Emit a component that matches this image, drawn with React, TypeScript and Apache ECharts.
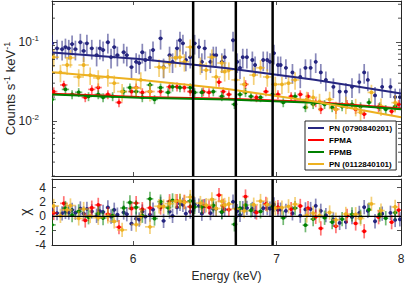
import React, { useEffect, useRef } from "react";
import * as echarts from "echarts";

// ---------- axis ranges / ticks ----------
const X_MIN = 5.5;
const X_MAX = 8;
const xTickValues = [6, 7, 8];
const Y_MIN = 0.002;
const Y_MAX = 0.33;
const yMinorTicks = [0.002, 0.003, 0.004, 0.005, 0.006, 0.007, 0.008, 0.009, 0.02, 0.03, 0.04, 0.05, 0.06, 0.07, 0.08, 0.09, 0.2, 0.3];
const CHI_MIN = -4;
const CHI_MAX = 5.2;
const feLines = [6.4, 6.7, 6.97];

// ---------- series names ----------
const names = ["PN (0790840201)", "FPMA", "FPMB", "PN (0112840101)"];

// ---------- PN (0790840201) ----------
const pn1E = [5.50, 5.53, 5.56, 5.58, 5.60, 5.62, 5.64, 5.67, 5.69, 5.71, 5.74, 5.77, 5.79, 5.81, 5.84, 5.86, 5.88, 5.90, 5.94, 5.96, 5.99, 6.02, 6.04, 6.06, 6.08, 6.11, 6.13, 6.18, 6.20, 6.24, 6.26, 6.29, 6.31, 6.33, 6.35, 6.38, 6.41, 6.44, 6.46, 6.48, 6.52, 6.54, 6.56, 6.60, 6.62, 6.68, 6.71, 6.73, 6.75, 6.78, 6.82, 6.84, 6.90, 6.93, 6.95, 6.98, 7.01, 7.03, 7.07, 7.12, 7.18, 7.22, 7.26, 7.30, 7.34, 7.38, 7.44, 7.49, 7.54, 7.59, 7.65, 7.69, 7.72, 7.78, 7.84, 7.91, 7.95, 7.99];
const pn1V = [0.096, 0.083, 0.081, 0.086, 0.083, 0.094, 0.081, 0.099, 0.077, 0.096, 0.083, 0.068, 0.083, 0.079, 0.099, 0.064, 0.086, 0.068, 0.074, 0.068, 0.048, 0.056, 0.054, 0.074, 0.059, 0.063, 0.079, 0.111, 0.048, 0.068, 0.056, 0.083, 0.105, 0.096, 0.059, 0.064, 0.096, 0.086, 0.056, 0.083, 0.056, 0.068, 0.068, 0.056, 0.064, 0.105, 0.056, 0.047, 0.064, 0.064, 0.059, 0.051, 0.059, 0.059, 0.056, 0.072, 0.051, 0.051, 0.047, 0.041, 0.036, 0.047, 0.047, 0.056, 0.041, 0.033, 0.027, 0.0235, 0.0235, 0.027, 0.031, 0.041, 0.033, 0.021, 0.027, 0.027, 0.020, 0.020];
const pn1RelErr = 0.28;
const pn1HalfBin = 0.014;
const pn1ModelE = [5.5, 6.04, 6.64, 7.29, 8.0];
const pn1ModelV = [0.0733, 0.0608, 0.0465, 0.0332, 0.0222];

// ---------- FPMA ----------
const fpmaE = [5.51, 5.57, 5.70, 5.74, 5.78, 5.84, 5.91, 5.99, 6.02, 6.06, 6.11, 6.18, 6.24, 6.29, 6.34, 6.38, 6.47, 6.51, 6.58, 6.61, 6.65, 6.77, 6.85, 6.92, 7.01, 7.11, 7.18, 7.24, 7.30, 7.34, 7.46, 7.55, 7.62, 7.69, 7.81, 7.92, 7.98];
const fpmaV = [0.0235, 0.0285, 0.0198, 0.025, 0.0264, 0.0216, 0.0171, 0.0235, 0.0264, 0.0229, 0.0235, 0.0235, 0.027, 0.027, 0.0264, 0.0235, 0.0235, 0.0229, 0.031, 0.0235, 0.0216, 0.029, 0.0198, 0.0235, 0.0216, 0.0204, 0.0216, 0.0204, 0.0171, 0.014, 0.014, 0.0162, 0.014, 0.0122, 0.0148, 0.0132, 0.0162];
const fpmaRelErr = 0.13;
const fpmaHalfBin = 0.022;
const fpmaModelE = [5.5, 6.04, 6.64, 7.29, 8.0];
const fpmaModelV = [0.0221, 0.0200, 0.0190, 0.0173, 0.0143];

// ---------- FPMB ----------
const fpmbE = [5.50, 5.58, 5.62, 5.66, 5.72, 5.78, 5.81, 5.87, 5.94, 5.98, 6.02, 6.06, 6.11, 6.14, 6.18, 6.23, 6.26, 6.31, 6.38, 6.41, 6.46, 6.54, 6.60, 6.69, 6.73, 6.77, 6.81, 6.88, 6.97, 7.05, 7.14, 7.22, 7.28, 7.37, 7.43, 7.51, 7.59, 7.66, 7.73, 7.82, 7.87, 7.95];
const fpmbV = [0.0187, 0.025, 0.0216, 0.023, 0.0204, 0.0216, 0.0198, 0.0204, 0.0235, 0.0264, 0.0235, 0.0198, 0.0285, 0.0187, 0.0264, 0.0229, 0.027, 0.0264, 0.0264, 0.0229, 0.0229, 0.0235, 0.0204, 0.0162, 0.0216, 0.023, 0.0204, 0.0198, 0.0216, 0.0171, 0.0204, 0.0148, 0.0162, 0.0162, 0.0148, 0.0152, 0.0162, 0.0152, 0.0171, 0.0152, 0.014, 0.0152];
const fpmbRelErr = 0.13;
const fpmbHalfBin = 0.022;
const fpmbModelE = [5.5, 6.04, 6.64, 7.29, 8.0];
const fpmbModelV = [0.0216, 0.0196, 0.0187, 0.0170, 0.0140];

// ---------- PN (0112840101) ----------
const pn2E = [5.51, 5.55, 5.59, 5.61, 5.66, 5.69, 5.73, 5.78, 5.84, 5.88, 5.93, 6.02, 6.05, 6.11, 6.17, 6.20, 6.24, 6.28, 6.31, 6.34, 6.38, 6.45, 6.49, 6.53, 6.56, 6.60, 6.62, 6.65, 6.70, 6.76, 6.83, 6.88, 6.93, 6.99, 7.04, 7.09, 7.14, 7.23, 7.28, 7.33, 7.41, 7.46, 7.54, 7.62, 7.66, 7.75, 7.83, 7.95];
const pn2V = [0.064, 0.041, 0.051, 0.063, 0.036, 0.051, 0.038, 0.035, 0.036, 0.030, 0.0235, 0.026, 0.033, 0.0235, 0.048, 0.047, 0.054, 0.063, 0.064, 0.056, 0.086, 0.051, 0.044, 0.064, 0.036, 0.054, 0.042, 0.044, 0.033, 0.029, 0.038, 0.047, 0.036, 0.029, 0.029, 0.030, 0.033, 0.0187, 0.0198, 0.0176, 0.0187, 0.014, 0.0162, 0.0152, 0.0128, 0.0229, 0.0154, 0.017];
const pn2RelErr = 0.25;
const pn2HalfBin = 0.032;
const pn2ModelE = [5.5, 6.04, 6.64, 7.29, 8.0];
const pn2ModelV = [0.0412, 0.0332, 0.0253, 0.0176, 0.0111];

// ---------- colours ----------
const colors = ["#262680", "#ff0000", "#008000", "#edb120"];
const barColors = ["rgba(38,38,128,0.55)", "rgba(255,0,0,0.55)", "rgba(0,128,0,0.55)", "rgba(237,177,32,0.6)"];

const FONT = "Liberation Sans, Arial, Helvetica, sans-serif";
const AX = "#262626";

function modelAt(E: number, mE: number[], mV: number[]) {
  for (let i = 0; i < mE.length - 1; i++) {
    if (E <= mE[i + 1] || i === mE.length - 2) {
      const f = Math.log(E / mE[i]) / Math.log(mE[i + 1] / mE[i]);
      return Math.exp(Math.log(mV[i]) + f * (Math.log(mV[i + 1]) - Math.log(mV[i])));
    }
  }
  return mV[mV.length - 1];
}

const sets = [
  { E: pn1E, V: pn1V, rel: pn1RelErr, hb: pn1HalfBin, mE: pn1ModelE, mV: pn1ModelV },
  { E: fpmaE, V: fpmaV, rel: fpmaRelErr, hb: fpmaHalfBin, mE: fpmaModelE, mV: fpmaModelV },
  { E: fpmbE, V: fpmbV, rel: fpmbRelErr, hb: fpmbHalfBin, mE: fpmbModelE, mV: fpmbModelV },
  { E: pn2E, V: pn2V, rel: pn2RelErr, hb: pn2HalfBin, mE: pn2ModelE, mV: pn2ModelV },
];

function errRender(color: string, barColor: string) {
  return (params: any, api: any) => {
    const E = api.value(0), y = api.value(1), lo = api.value(2), hi = api.value(3), dx = api.value(4);
    const p = api.coord([E, y]);
    const pl = api.coord([E - dx, y]);
    const pr = api.coord([E + dx, y]);
    const pt = api.coord([E, hi]);
    const pb = api.coord([E, lo]);
    return {
      type: "group",
      children: [
        { type: "line", shape: { x1: pl[0], y1: p[1], x2: pr[0], y2: p[1] }, style: { stroke: barColor, lineWidth: 1.7 } },
        { type: "line", shape: { x1: p[0], y1: pt[1], x2: p[0], y2: pb[1] }, style: { stroke: barColor, lineWidth: 1.7 } },
        { type: "circle", shape: { cx: p[0], cy: p[1], r: 1.9 }, style: { fill: color } },
      ],
    };
  };
}

function minorTickRender(params: any, api: any) {
  const v = api.value(1);
  const a = api.coord([X_MIN, v]);
  const b = api.coord([X_MAX, v]);
  return {
    type: "group",
    children: [
      { type: "line", shape: { x1: a[0], y1: a[1], x2: a[0] + 3, y2: a[1] }, style: { stroke: AX, lineWidth: 0.8 } },
      { type: "line", shape: { x1: b[0] - 3, y1: b[1], x2: b[0], y2: b[1] }, style: { stroke: AX, lineWidth: 0.8 } },
    ],
  };
}

function vLineRender(yLo: number, yHi: number) {
  return (params: any, api: any) => {
    const e = api.value(0);
    const a = api.coord([e, yLo]);
    const b = api.coord([e, yHi]);
    return { type: "line", shape: { x1: a[0], y1: a[1], x2: b[0], y2: b[1] }, style: { stroke: "#000", lineWidth: 2.5 } };
  };
}

function hLineRender(params: any, api: any) {
  const v = api.value(1);
  const a = api.coord([X_MIN, v]);
  const b = api.coord([X_MAX, v]);
  return { type: "line", shape: { x1: a[0], y1: a[1], x2: b[0], y2: b[1] }, style: { stroke: "#000", lineWidth: 1.2 } };
}

function buildOption() {
  const series: any[] = [];
  sets.forEach((s, i) => {
    const pts = s.E.map((e, k) => {
      const v = s.V[k];
      return [e, v, v * (1 - s.rel), v * (1 + s.rel), s.hb];
    });
    const res = s.E.map((e, k) => {
      const v = s.V[k];
      const chi = (v - modelAt(e, s.mE, s.mV)) / (v * s.rel);
      return [e, chi, chi - 1, chi + 1, s.hb];
    });
    series.push({
      type: "custom", name: names[i] + " data", xAxisIndex: 0, yAxisIndex: 0,
      renderItem: errRender(colors[i], barColors[i]), data: pts, encode: { x: 0, y: 1 }, z: 2, clip: true, silent: true,
    });
    series.push({
      type: "custom", name: names[i] + " resid", xAxisIndex: 1, yAxisIndex: 2,
      renderItem: errRender(colors[i], barColors[i]), data: res, encode: { x: 0, y: 1 }, z: 2, clip: true, silent: true,
    });
  });
  sets.forEach((s, i) => {
    series.push({
      type: "line", name: names[i], xAxisIndex: 0, yAxisIndex: 0,
      data: s.mE.map((e, k) => [e, s.mV[k]]), showSymbol: false, symbol: "none",
      lineStyle: { color: colors[i], width: 2 }, itemStyle: { color: colors[i] }, z: 3, silent: true,
    });
  });
  series.push({
    type: "custom", name: "minor", xAxisIndex: 0, yAxisIndex: 0, renderItem: minorTickRender,
    data: yMinorTicks.map((v) => [X_MIN, v]), encode: { x: 0, y: 1 }, z: 5, silent: true,
  });
  series.push({
    type: "custom", name: "fe0", xAxisIndex: 0, yAxisIndex: 0, renderItem: vLineRender(Y_MIN, Y_MAX),
    data: feLines.map((e) => [e, 0.01]), encode: { x: 0, y: 1 }, z: 10, silent: true,
  });
  series.push({
    type: "custom", name: "fe1", xAxisIndex: 1, yAxisIndex: 2, renderItem: vLineRender(CHI_MIN, CHI_MAX),
    data: feLines.map((e) => [e, 0]), encode: { x: 0, y: 1 }, z: 10, silent: true,
  });
  series.push({
    type: "custom", name: "zero", xAxisIndex: 1, yAxisIndex: 2, renderItem: hLineRender,
    data: [[X_MIN, 0]], encode: { x: 0, y: 1 }, z: 9, silent: true,
  });

  const tickCommon = { show: true, inside: true, length: 4, lineStyle: { color: AX, width: 0.8 } };
  const lineCommon = { show: true, onZero: false, lineStyle: { color: AX, width: 1 } };
  const xBase = {
    type: "log", logBase: 10, min: X_MIN, max: X_MAX, splitLine: { show: false },
    axisLine: lineCommon,
  };

  return {
    animation: false,
    backgroundColor: "#fff",
    textStyle: { fontFamily: FONT },
    grid: [
      { left: 52, top: 1, width: 349, height: 175, containLabel: false, outerBoundsMode: "none" },
      { left: 52, top: 179, width: 349, height: 66, containLabel: false, outerBoundsMode: "none" },
    ],
    legend: {
      data: names.map((n) => ({ name: n, icon: "rect" })),
      orient: "vertical", left: 305, top: 121, itemWidth: 16, itemHeight: 2, itemGap: 2,
      padding: [2, 4, 1, 3], backgroundColor: "#fff", borderColor: AX, borderWidth: 1,
      textStyle: { fontFamily: FONT, fontSize: 8, fontWeight: "bold", color: "#000", lineHeight: 10 },
      selectedMode: false,
    },
    xAxis: [
      { ...xBase, gridIndex: 0, position: "bottom", axisLabel: { show: false }, axisTick: { ...tickCommon, customValues: xTickValues } },
      {
        ...xBase, gridIndex: 1, position: "bottom",
        axisTick: { ...tickCommon, customValues: xTickValues },
        axisLabel: { show: true, customValues: xTickValues, margin: 8, fontSize: 12, color: AX, fontFamily: FONT, formatter: (v: number) => String(Math.round(v)) },
        name: "Energy (keV)", nameLocation: "middle", nameGap: 25, nameMoveOverlap: false,
        nameTextStyle: { fontSize: 12, color: AX, fontFamily: FONT },
      },
      { ...xBase, gridIndex: 0, position: "top", axisLabel: { show: false }, axisTick: { ...tickCommon, customValues: xTickValues } },
      { ...xBase, gridIndex: 1, position: "top", axisLabel: { show: false }, axisTick: { ...tickCommon, customValues: xTickValues } },
    ],
    yAxis: [
      {
        type: "log", logBase: 10, gridIndex: 0, min: Y_MIN, max: Y_MAX, position: "left",
        axisLine: lineCommon, splitLine: { show: false }, axisTick: { ...tickCommon, length: 5 },
        axisLabel: {
          margin: 13, color: AX, showMinLabel: false, showMaxLabel: false,
          formatter: (v: number) => {
            const ex = Math.round(Math.log10(v));
            return "{b|10}{s|" + ex + "}";
          },
          rich: {
            b: { fontSize: 12, fontFamily: FONT, color: AX },
            s: { fontSize: 8, fontFamily: FONT, color: AX, padding: [0, 0, 7, 0] },
          },
        },
        name: "{a|Counts s}{s|-1}{a| keV}{s|-1}", nameLocation: "middle", nameGap: 34, nameMoveOverlap: false,
        nameTextStyle: {
          rich: {
            a: { fontSize: 13, fontFamily: FONT, color: AX },
            s: { fontSize: 9, fontFamily: FONT, color: AX, padding: [0, 0, 7, 0] },
          },
        },
      },
      {
        type: "log", logBase: 10, gridIndex: 0, min: Y_MIN, max: Y_MAX, position: "right",
        axisLine: lineCommon, splitLine: { show: false }, axisTick: { ...tickCommon, length: 5 }, axisLabel: { show: false },
      },
      {
        type: "value", gridIndex: 1, min: CHI_MIN, max: CHI_MAX, interval: 2, position: "left",
        axisLine: lineCommon, splitLine: { show: false }, axisTick: tickCommon,
        axisLabel: { margin: 6, fontSize: 12, color: AX, fontFamily: FONT, showMaxLabel: false },
        name: "χ", nameLocation: "middle", nameGap: 20, nameMoveOverlap: false,
        nameTextStyle: { fontSize: 14, color: AX, fontFamily: FONT },
      },
      {
        type: "value", gridIndex: 1, min: CHI_MIN, max: CHI_MAX, interval: 2, position: "right",
        axisLine: lineCommon, splitLine: { show: false }, axisTick: tickCommon, axisLabel: { show: false },
      },
    ],
    series,
  };
}

export default function App() {
  const ref = useRef<HTMLDivElement>(null);
  useEffect(() => {
    if (!ref.current) return;
    const chart = echarts.init(ref.current, undefined, { renderer: "svg" });
    chart.setOption(buildOption() as any);
    return () => chart.dispose();
  }, []);
  return <div ref={ref} style={{ position: "fixed", left: 0, top: 0, width: 407, height: 285, background: "#fff" }} />;
}
